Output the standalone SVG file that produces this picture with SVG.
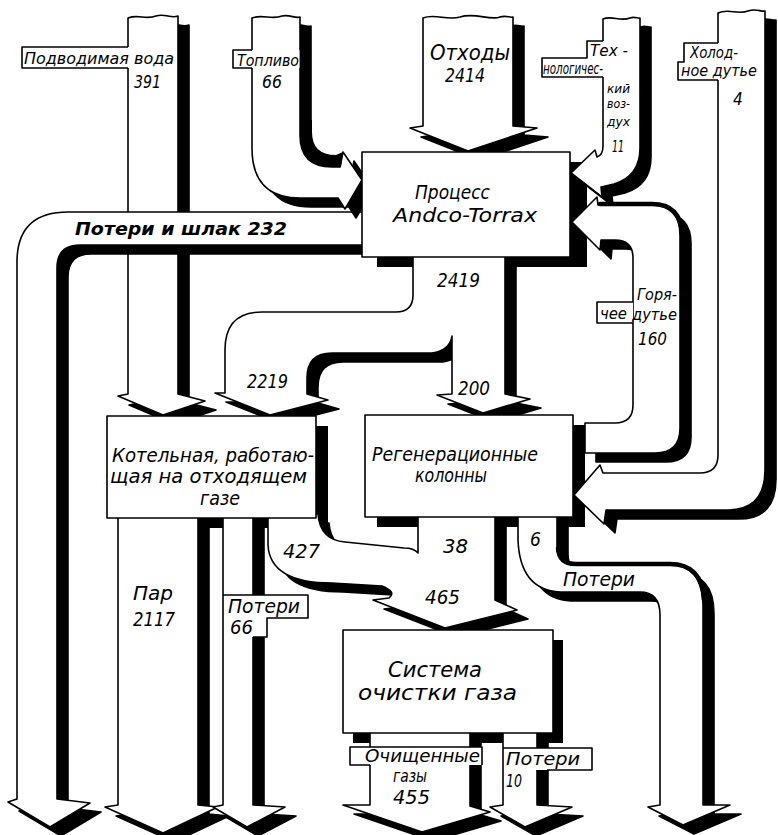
<svg xmlns="http://www.w3.org/2000/svg" xmlns:xlink="http://www.w3.org/1999/xlink" width="778" height="835" viewBox="0 0 778 835">
<style>
.b{fill:#fff;stroke:#000;stroke-width:1.6;stroke-linejoin:round}
.sh{fill:#000;stroke:#000;stroke-width:1.6;stroke-linejoin:round}
.face{fill:none;stroke:#000;stroke-width:4.5;stroke-linecap:round}
.lbf{fill:#fff;stroke:none}
.lbs{fill:none;stroke:#000;stroke-width:1.6;stroke-linejoin:round}
text{font-family:"DejaVu Sans Condensed","DejaVu Sans","Liberation Sans",sans-serif;font-style:italic;fill:#000}
.t13{font-size:13px}.t15{font-size:15px}.t16{font-size:16px}.t17{font-size:17px}.t18{font-size:18px}.t19{font-size:19px}.t20{font-size:20px}.t21{font-size:21px}
</style>
<defs>
<path id="p-water" d="M128,18 C138,14 146,20 156,16 C165,13 171,19 178,16 L178,394 L205,401 L163,415 L118,396 L128,394 Z"/>
<path id="p-slag" d="M366,212 L68,212 Q17,212 17,262 L17,799 L8,802 L50,827 L90,803 L57,799 L57,268 Q57,245 80,245 L366,245 Z"/>
<path id="p-fuel" d="M252,18 C262,14 272,20 282,16 C290,14 295,19 300,17 L300,135 Q300,167 332,167 L340,167 L343,152 L362,180 L345,209 L338,198 L300,198 Q252,198 252,148 Z"/>
<path id="p-waste" d="M423,18 C435,13 447,21 460,17 C475,12 490,21 500,17 C506,15 510,18 513,17 L513,126 L537,128 L468,151 L410,128 L423,126 Z"/>
<path id="p-air" d="M603,19 C612,15 620,22 630,18 C635,16 638,19 640,18 L640,148 Q640,176 614,184 L601,187 L602,197 L571,173 L595,150 L597,157 Q603,155 603,146 Z"/>
<path id="p-hot" d="M585,423 L615,423 Q633,423 633,405 L633,258 Q633,240 615,240 L601,240 L600,250 L572,222 L597,197 L598,205 L652,205 Q680,205 680,235 L680,428 Q680,453 655,453 L585,453 Z"/>
<path id="p-cold" d="M718,13 C728,8 738,15 748,11 C756,8 761,12 765,11 L765,470 Q765,510 728,510 L606,510 L604,524 L574,495 L600,465 L603,473 L700,473 Q718,473 718,455 Z"/>
<path id="p-2419" d="M413,255 L413,295 Q413,312 396,312 L262,312 Q225,312 225,350 L225,393 L215,393 L270,415 L328,400 L307,394 L307,378 Q307,353 332,353 L432,353 Q450,350 452,336 L452,394 L437,395 L483,413 L530,399 L505,394 L505,255 Z"/>
<path id="p-steam" d="M118,514 L198,514 L198,805 L218,807 L163,833 L105,807 L118,805 Z"/>
<path id="p-loss66" d="M223,514 L253,514 L253,805 L285,807 L247,827 L213,807 L223,805 Z"/>
<path id="p-465" d="M268,514 L268,545 Q270,583 332,583 L382,586 Q397,592 389,598 L373,600 L445,628 L517,610 L495,600 L495,514 L418,514 L418,553 Q414,548 404,548 L345,542 Q320,540 318,514 Z"/>
<path id="p-6" d="M518,514 L518,540 Q520,590 560,592 L640,592 Q660,592 660,615 L660,805 L648,807 L683,825 L730,805 L703,805 L703,605 Q703,565 670,565 L575,565 Q557,565 557,545 L557,514 Z"/>
<path id="p-455" d="M370,731 L470,731 L470,806 L490,812 L422,832 L343,805 L370,805 Z"/>
<path id="p-10" d="M503,731 L537,731 L537,805 L572,807 L525,827 L490,807 L503,805 Z"/>
</defs>
<rect width="778" height="835" fill="#fff"/>

<g id="node-shadows" fill="#000">
<rect x="377" y="162" width="210" height="105"/>
<rect x="119" y="426" width="209" height="102"/>
<rect x="377" y="425" width="208" height="102"/>
<rect x="353" y="640" width="210" height="103"/>
</g>

<g id="connectors">
<use href="#p-water" class="sh" transform="translate(11,9)"/><use href="#p-water" class="b"/>
<use href="#p-slag" class="sh" transform="translate(11,9)"/><use href="#p-slag" class="b"/>
<use href="#p-fuel" class="sh" transform="translate(11,9)"/><use href="#p-fuel" class="b"/>
<path fill="#000" d="M300,120 L312,120 L312,132 Q312,155 336,155 L343,152 L341,167 L332,167 Q300,167 300,135 Z"/>
<use href="#p-waste" class="sh" transform="translate(11,9)"/><use href="#p-waste" class="b"/>
<use href="#p-air" class="sh" transform="translate(11,9)"/><use href="#p-air" class="b"/>
<use href="#p-hot" class="sh" transform="translate(11,9)"/><use href="#p-hot" class="b"/>
<path class="face" d="M600,204 L652,204 Q681,204 682,235"/>
<use href="#p-cold" class="sh" transform="translate(11,9)"/><use href="#p-cold" class="b"/>
<use href="#p-2419" class="sh" transform="translate(11,9)"/><use href="#p-2419" class="b"/>
<use href="#p-steam" class="sh" transform="translate(11,9)"/><use href="#p-steam" class="b"/>
<use href="#p-loss66" class="sh" transform="translate(11,9)"/><use href="#p-loss66" class="b"/>
<use href="#p-465" class="sh" transform="translate(11,9)"/><use href="#p-465" class="b"/>
<use href="#p-6" class="sh" transform="translate(11,9)"/><use href="#p-6" class="b"/>
<path class="face" d="M558,548 Q559,564 576,564 L670,564 Q702,564 704,600"/>
<use href="#p-455" class="sh" transform="translate(11,9)"/><use href="#p-455" class="b"/>
<use href="#p-10" class="sh" transform="translate(11,9)"/><use href="#p-10" class="b"/>
</g>

<g id="flow-labels">
<rect class="lbf" x="22" y="47" width="154.5" height="21"/>
<path class="lbs" d="M128,47 L22,47 L22,68 L128,68"/>
<text class="t16" x="24" y="64" textLength="150" lengthAdjust="spacingAndGlyphs">Подводимая вода</text>
<text class="t18" x="134" y="88" textLength="27" lengthAdjust="spacingAndGlyphs">391</text>

<rect class="lbf" x="233" y="50" width="66.5" height="18"/>
<path class="lbs" d="M252,50 L233,50 L233,68 L252,68"/>
<text class="t15" x="237" y="66" textLength="62" lengthAdjust="spacingAndGlyphs">Топливо</text>
<text class="t18" x="262" y="88" textLength="20" lengthAdjust="spacingAndGlyphs">66</text>

<text class="t21" x="430" y="60" textLength="80" lengthAdjust="spacingAndGlyphs">Отходы</text>
<text class="t20" x="445" y="82" textLength="40" lengthAdjust="spacingAndGlyphs">2414</text>

<path class="lbf" d="M587,41 L639,41 L639,77 L542,77 L542,58 L587,58 Z"/>
<path class="lbs" d="M603,41 L587,41 L587,58 L542,58 L542,77 L603,77"/>
<text class="t16" x="590" y="56" textLength="38" lengthAdjust="spacingAndGlyphs">Тех -</text>
<text class="t15" x="543" y="74" textLength="60" lengthAdjust="spacingAndGlyphs">нологичес-</text>
<text class="t13" x="607" y="93" textLength="23" lengthAdjust="spacingAndGlyphs">кий</text>
<text class="t13" x="607" y="108" textLength="23" lengthAdjust="spacingAndGlyphs">воз-</text>
<text class="t13" x="607" y="126" textLength="23" lengthAdjust="spacingAndGlyphs">дух</text>
<text class="t16" x="612" y="152" textLength="12" lengthAdjust="spacingAndGlyphs">11</text>

<path class="lbf" d="M684,43 L764,43 L764,80 L678,80 L678,62 L684,62 Z"/>
<path class="lbs" d="M718,43 L684,43 L684,62 L678,62 L678,80 L718,80"/>
<text class="t16" x="690" y="58" textLength="48" lengthAdjust="spacingAndGlyphs">Холод-</text>
<text class="t15" x="681" y="76" textLength="76" lengthAdjust="spacingAndGlyphs">ное дутье</text>
<text class="t17" x="733" y="105">4</text>

<text class="t18" x="75" y="235" textLength="212" lengthAdjust="spacingAndGlyphs" font-weight="bold">Потери и шлак  232</text>
<text class="t19" x="437" y="287" textLength="43" lengthAdjust="spacingAndGlyphs">2419</text>
<text class="t19" x="247" y="388" textLength="41" lengthAdjust="spacingAndGlyphs">2219</text>
<text class="t19" x="458" y="395" textLength="32" lengthAdjust="spacingAndGlyphs">200</text>

<rect class="lbf" x="597" y="302" width="36" height="21"/>
<path class="lbs" d="M633,302 L597,302 L597,323 L633,323"/>
<text class="t16" x="637" y="300" textLength="40" lengthAdjust="spacingAndGlyphs">Горя-</text>
<text class="t15" x="600" y="319" textLength="27" lengthAdjust="spacingAndGlyphs">чее</text>
<text class="t16" x="632" y="320" textLength="45" lengthAdjust="spacingAndGlyphs">дутье</text>
<text class="t18" x="638" y="345" textLength="29" lengthAdjust="spacingAndGlyphs">160</text>

<text class="t19" x="283" y="558" textLength="37" lengthAdjust="spacingAndGlyphs">427</text>
<text class="t19" x="443" y="553" textLength="25" lengthAdjust="spacingAndGlyphs">38</text>
<text class="t19" x="530" y="546">6</text>
<text class="t19" x="425" y="604" textLength="35" lengthAdjust="spacingAndGlyphs">465</text>

<text class="t20" x="133" y="600" textLength="40" lengthAdjust="spacingAndGlyphs">Пар</text>
<text class="t20" x="133" y="626" textLength="42" lengthAdjust="spacingAndGlyphs">2117</text>

<path class="lbf" d="M224,595 L308,595 L308,618 L267,618 L267,637 L224,637 Z"/>
<path class="lbs" d="M223,595 L308,595 L308,618 L267,618 L267,637 L253,637"/>
<text class="t19" x="228" y="613" textLength="72" lengthAdjust="spacingAndGlyphs">Потери</text>
<text class="t19" x="230" y="634" textLength="23" lengthAdjust="spacingAndGlyphs">66</text>

<text class="t19" x="563" y="586" textLength="72" lengthAdjust="spacingAndGlyphs">Потери</text>

<rect class="lbf" x="350" y="747" width="132" height="18"/>
<path class="lbs" d="M370,765 L350,765 L350,747 L482,747 L482,765"/>
<text class="t18" x="365" y="762" textLength="115" lengthAdjust="spacingAndGlyphs">Очищенные</text>
<text class="t18" x="393" y="782" textLength="34" lengthAdjust="spacingAndGlyphs">газы</text>
<text class="t19" x="393" y="804" textLength="37" lengthAdjust="spacingAndGlyphs">455</text>

<rect class="lbf" x="504" y="748" width="88" height="22"/>
<path class="lbs" d="M503,748 L592,748 L592,770 L547,770"/>
<text class="t17" x="506" y="765" textLength="74" lengthAdjust="spacingAndGlyphs">Потери</text>
<text class="t17" x="506" y="787" textLength="16" lengthAdjust="spacingAndGlyphs">10</text>
</g>

<g id="node-andco">
<rect class="b" x="362" y="152" width="208" height="105"/>
<text class="t19" x="415" y="199" textLength="75" lengthAdjust="spacingAndGlyphs">Процесс</text>
<text class="t20" x="393" y="222" textLength="144" lengthAdjust="spacingAndGlyphs">Andco-Torrax</text>
</g>
<g id="node-boiler">
<rect class="b" x="107" y="416" width="209" height="102"/>
<text class="t19" x="112" y="462" textLength="202" lengthAdjust="spacingAndGlyphs">Котельная, работаю-</text>
<text class="t19" x="110" y="483" textLength="197" lengthAdjust="spacingAndGlyphs">щая  на отходящем</text>
<text class="t19" x="200" y="505" textLength="40" lengthAdjust="spacingAndGlyphs">газе</text>
</g>
<g id="node-regen">
<rect class="b" x="365" y="415" width="208" height="102"/>
<text class="t19" x="372" y="461" textLength="166" lengthAdjust="spacingAndGlyphs">Регенерационные</text>
<text class="t19" x="415" y="482" textLength="72" lengthAdjust="spacingAndGlyphs">колонны</text>
</g>
<g id="node-cleaning">
<rect class="b" x="343" y="630" width="210" height="103"/>
<text class="t21" x="388" y="677" textLength="94" lengthAdjust="spacingAndGlyphs">Система</text>
<text class="t21" x="358" y="700" textLength="159" lengthAdjust="spacingAndGlyphs">очистки  газа</text>
</g>
</svg>
